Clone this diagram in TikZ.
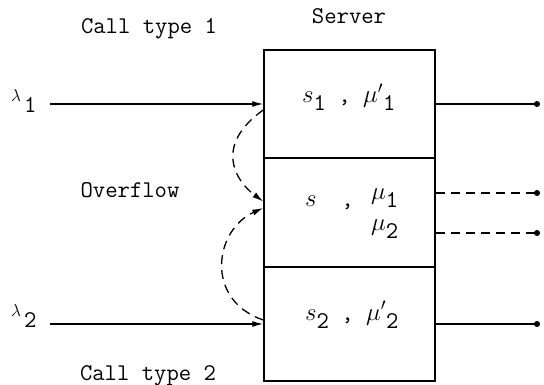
\documentclass[tikz,border=0pt]{standalone}
\usepackage{amsmath}
\usepackage{tikz}
\usetikzlibrary{arrows.meta, positioning, calc}

\newcommand{\lowsub}[1]{\raisebox{-8pt}{#1}}
\newcommand{\hilam}{\raisebox{11pt}{\fontsize{18}{18}\selectfont$\lambda$}\kern3pt}

\begin{document}
\begin{tikzpicture}[x=1pt, y=-1pt,
  every node/.style={font=\fontsize{24}{28}\selectfont\ttfamily, inner sep=0pt},
  comp/.style={draw, line width=1.5pt, minimum width=171pt},
  flow/.style={line width=1.3pt, -{Latex[length=11pt, width=6pt]}},
  ovf/.style={flow, dash pattern=on 9pt off 6pt},
  outln/.style={line width=1.3pt, -{Circle[length=6pt]}},
  dashout/.style={outln, dash pattern=on 9pt off 6pt}]
  \useasboundingbox (0,0) rectangle (544,385);
  % server compartments
  \node[comp, minimum height=108pt] (c1) at (349.5,104) {};
  \node[comp, minimum height=109pt] (c2) at (349.5,212.5) {};
  \node[comp, minimum height=114pt] (c3) at (349.5,324) {};
  % labels
  \node[anchor=base] (srv) at (349,24) {Server};
  \node[anchor=base] (ct1) at (149,34) {Call type 1};
  \node[anchor=base] (ovl) at (130,198) {Overflow};
  \node[anchor=base] (ct2) at (148,380) {Call type 2};
  \node[anchor=base west] (lam1) at (11,113) {\hilam 1};
  \node[anchor=base west] (lam2) at (11,327) {\hilam 2};
  % compartment contents
  \node[anchor=base west] (t1) at (302,103) {$s$\lowsub{1} , $\mu'$\lowsub{1}};
  \node[anchor=base west] (t2) at (305,207) {$s$\ \ ,};
  \node[anchor=base west] (m1) at (371,200) {$\mu$\lowsub{1}};
  \node[anchor=base west] (m2) at (371,230) {$\mu$\lowsub{2}};
  \node[anchor=base west] (t3) at (305,320) {$s$\lowsub{2} , $\mu'$\lowsub{2}};
  % arrivals
  \coordinate (in1) at (50,104);
  \coordinate (in2) at (50,324);
  \draw[flow] (in1) -- (c1.west);
  \draw[flow] (in2) -- (c3.west);
  % overflow
  \draw[ovf] ([yshift=-6pt]c1.west) .. controls +(-49,35) and +(-29,-21.5) .. ([yshift=11pt]c2.west);
  \draw[ovf] ([yshift=4pt]c3.west) .. controls +(-59,-20) and +(-49,22) .. ([yshift=4.5pt]c2.west);
  % departures
  \coordinate (o1) at (540,104);
  \coordinate (o2) at (540,193);
  \coordinate (o3) at (540,233);
  \coordinate (o4) at (540,324);
  \draw[outln] (c1.east) -- (o1);
  \draw[dashout] ([yshift=19.5pt]c2.east) -- (o2);
  \draw[dashout] ([yshift=-20.5pt]c2.east) -- (o3);
  \draw[outln] (c3.east) -- (o4);
\end{tikzpicture}
\end{document}
